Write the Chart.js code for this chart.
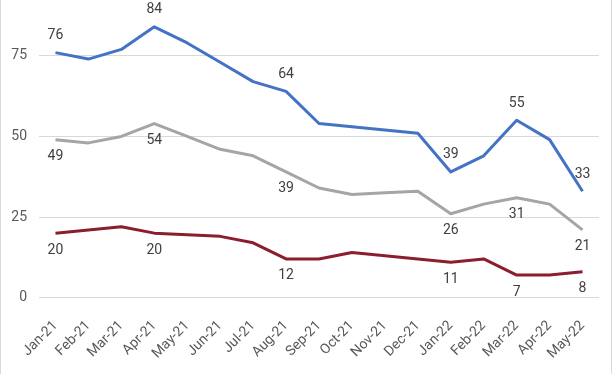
<!DOCTYPE html>
<html lang="en">
<head>
  <meta charset="UTF-8">
  <title>Monthly trend</title>
  <script src="https://cdn.jsdelivr.net/npm/chart.js"></script>
  <style>
    html, body { margin: 0; padding: 0; background: #fff; }
    #wrap {
      width: 610px;
      height: 374px;
      border-left: 1px solid #d9d9d9;
      border-right: 1px solid #d9d9d9;
      position: relative;
    }
  </style>
</head>
<body>
  <div id="wrap"><canvas id="chart"></canvas></div>
  <script>
    const months = ['Jan-21', 'Feb-21', 'Mar-21', 'Apr-21', 'May-21', 'Jun-21', 'Jul-21', 'Aug-21',
      'Sep-21', 'Oct-21', 'Nov-21', 'Dec-21', 'Jan-22', 'Feb-22', 'Mar-22', 'Apr-22', 'May-22'];
    const blueSeries = [76, 74, 77, 84, 79, 73, 67, 64, 54, 53, 52, 51, 39, 44, 55, 49, 33];
    const greySeries = [49, 48, 50, 54, 50, 46, 44, 39, 34, 32, 32.5, 33, 26, 29, 31, 29, 21];
    const redSeries = [20, 21, 22, 20, 19.5, 19, 17, 12, 12, 14, 13, 12, 11, 12, 7, 7, 8];
    const labelledPoints = [0, 3, 7, 12, 14, 16];
    const yTicks = [0, 25, 50, 75];

    // draws the value labels (above for blue, below for the others)
    const valueLabels = {
      id: 'valueLabels',
      afterDatasetsDraw(chart) {
        const ctx = chart.ctx;
        ctx.save();
        ctx.font = '14px Roboto, "Noto Sans", sans-serif';
        ctx.fillStyle = '#404040';
        ctx.textAlign = 'center';
        ctx.textBaseline = 'middle';
        chart.data.datasets.forEach((ds, di) => {
          const meta = chart.getDatasetMeta(di);
          labelledPoints.forEach(i => {
            const pt = meta.data[i];
            const dy = ds.labelPos === 'above' ? -17 : 17;
            ctx.fillText(String(ds.data[i]), pt.x, pt.y + dy);
          });
        });
        ctx.restore();
      }
    };

    const tickFont = { family: 'Roboto, "Noto Sans", sans-serif', size: 14 };

    new Chart(document.getElementById('chart'), {
      type: 'line',
      data: {
        labels: months,
        datasets: [
          { data: blueSeries, borderColor: '#4472C4', labelPos: 'above' },
          { data: greySeries, borderColor: '#A5A5A5', labelPos: 'below' },
          { data: redSeries, borderColor: '#8B1E2E', labelPos: 'below' }
        ]
      },
      options: {
        responsive: true,
        maintainAspectRatio: false,
        animation: false,
        layout: { padding: { top: 0, right: 12, left: 0, bottom: 0 } },
        elements: {
          line: { borderWidth: 3, tension: 0, borderJoinStyle: 'round' },
          point: { radius: 0, hoverRadius: 0 }
        },
        plugins: {
          legend: { display: false },
          tooltip: { enabled: false }
        },
        scales: {
          x: {
            offset: true,
            grid: { display: false },
            border: { display: false },
            afterFit(scale) {
              scale.paddingLeft = 0;
              scale.paddingRight = 0;
            },
            ticks: {
              autoSkip: false,
              maxRotation: 45,
              minRotation: 45,
              color: '#595959',
              font: tickFont,
              padding: 12
            }
          },
          y: {
            min: 0,
            max: 86,
            afterBuildTicks(scale) {
              scale.ticks = yTicks.map(v => ({ value: v }));
            },
            afterFit(scale) {
              scale.width = 38;
            },
            grid: { color: '#D9D9D9', lineWidth: 1, drawTicks: false },
            border: { display: false },
            ticks: { color: '#595959', font: tickFont, padding: 12 }
          }
        }
      },
      plugins: [valueLabels]
    });
  </script>
</body>
</html>
